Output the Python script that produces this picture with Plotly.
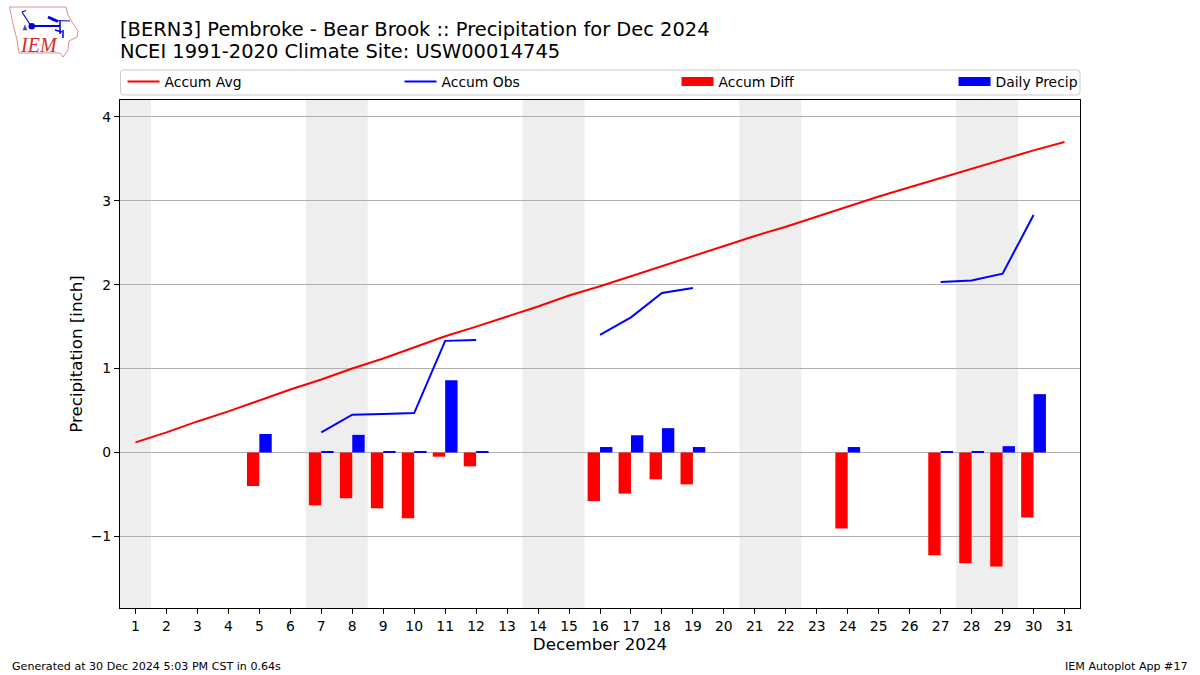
import plotly.graph_objects as go

days = list(range(1, 32))
accum_avg = [0.12, 0.24, 0.37, 0.49, 0.62, 0.75, 0.87, 1.00, 1.12, 1.25, 1.385, 1.50, 1.62, 1.74, 1.87, 1.98,
             2.10, 2.22, 2.34, 2.46, 2.58, 2.69, 2.81, 2.93, 3.05, 3.16, 3.27, 3.38, 3.49, 3.60, 3.70]
accum_obs = [None, None, None, None, None, None, 0.24, 0.45, 0.46, 0.47, 1.33, 1.34, None, None, None, 1.40,
             1.61, 1.90, 1.96, None, None, None, None, None, None, None, 2.03, 2.05, 2.13, 2.83, None]
accum_diff = [None, None, None, None, -0.40, None, -0.63, -0.545, -0.665, -0.785, -0.05, -0.165, None, None, None, -0.58,
              -0.49, -0.32, -0.38, None, None, None, None, -0.905, None, None, -1.225, -1.32, -1.36, -0.775, None]
daily_precip = [None, None, None, None, 0.22, None, 0.01, 0.21, 0.01, 0.01, 0.86, 0.01, None, None, None, 0.065,
                0.205, 0.29, 0.065, None, None, None, None, 0.065, None, None, 0.01, 0.01, 0.075, 0.695, None]
weekend_spans = [(0.5, 1.5), (6.5, 8.5), (13.5, 15.5), (20.5, 22.5), (27.5, 29.5)]
yticks = [-1, 0, 1, 2, 3, 4]

W, H = 1200, 675
L, R, T, B = 120, 1080, 100, 608
FONT = "DejaVu Sans"


def px(x):
    return (x - L) / (R - L)


def py(y):
    return (B - y) / (B - T)


def path(points, close=False):
    s = "M" + " L".join(f"{px(a):.5f},{py(b):.5f}" for a, b in points)
    return s + (" Z" if close else "")


fig = go.Figure()
fig.add_trace(go.Scatter(x=days, y=accum_avg, mode="lines", name="Accum Avg", legendwidth=227,
                         line=dict(color="#ff0000", width=2)))
fig.add_trace(go.Scatter(x=days, y=accum_obs, mode="lines", name="Accum Obs", legendwidth=227,
                         line=dict(color="#0000ff", width=2)))
fig.add_trace(go.Bar(x=days, y=accum_diff, name="Accum Diff", width=0.4, offset=-0.4, showlegend=False,
                     legendgroup="diff", marker=dict(color="#ff0000", line_width=0)))
fig.add_trace(go.Scatter(x=[None], y=[None], mode="lines", name="Accum Diff", legendgroup="diff", legendwidth=227,
                         line=dict(color="#ff0000", width=9)))
fig.add_trace(go.Bar(x=days, y=daily_precip, name="Daily Precip", width=0.4, offset=0, showlegend=False,
                     legendgroup="daily", marker=dict(color="#0000ff", line_width=0)))
fig.add_trace(go.Scatter(x=[None], y=[None], mode="lines", name="Daily Precip", legendgroup="daily", legendwidth=92,
                         line=dict(color="#0000ff", width=9)))

shapes = []
for a, b in weekend_spans:
    shapes.append(dict(type="rect", xref="x", yref="paper", x0=a, x1=b, y0=0, y1=1,
                       fillcolor="#eeeeee", line_width=0, layer="below"))

# legend frame
lx0, lx1, ly0, ly1, r = 120.5, 1080, 70, 95, 3
shapes.append(dict(type="path", xref="paper", yref="paper", layer="below",
                   path=(f"M{px(lx0 + r):.5f},{py(ly0):.5f} L{px(lx1 - r):.5f},{py(ly0):.5f} "
                         f"Q{px(lx1):.5f},{py(ly0):.5f} {px(lx1):.5f},{py(ly0 + r):.5f} "
                         f"L{px(lx1):.5f},{py(ly1 - r):.5f} Q{px(lx1):.5f},{py(ly1):.5f} {px(lx1 - r):.5f},{py(ly1):.5f} "
                         f"L{px(lx0 + r):.5f},{py(ly1):.5f} Q{px(lx0):.5f},{py(ly1):.5f} {px(lx0):.5f},{py(ly1 - r):.5f} "
                         f"L{px(lx0):.5f},{py(ly0 + r):.5f} Q{px(lx0):.5f},{py(ly0):.5f} {px(lx0 + r):.5f},{py(ly0):.5f} Z"),
                   line=dict(color="#cccccc", width=1), fillcolor="rgba(255,255,255,0.8)"))

# IEM logo
outline = [(9.5, 7), (66, 7), (68, 15), (72, 22), (78, 31), (77, 37), (69, 41), (68, 50), (63, 57), (60, 53), (19, 53), (17, 40), (13, 24)]
shapes.append(dict(type="path", xref="paper", yref="paper", path=path(outline, True),
                   line=dict(color="#e28c8c", width=1), fillcolor="rgba(0,0,0,0)"))
for seg, w in (([(31, 26), (60, 26)], 2), ([(31, 26), (22, 12)], 1.2), ([(22, 12), (26, 10.5)], 1.2),
               ([(48, 17), (58, 21.5)], 3), ([(52, 20.5), (70, 21)], 1), ([(60, 21), (60, 34)], 1.5),
               ([(63, 30), (63, 38)], 1.5), ([(55, 30), (62, 32)], 1.5)):
    shapes.append(dict(type="path", xref="paper", yref="paper", path=path(seg),
                       line=dict(color="#0000e0", width=w)))
shapes.append(dict(type="circle", xref="paper", yref="paper", x0=px(28.5), x1=px(35), y0=py(29.5), y1=py(23),
                   fillcolor="#0000e0", line_width=0))
shapes.append(dict(type="path", xref="paper", yref="paper", path=path([(23, 30), (25, 25), (27, 30)], True),
                   line=dict(color="#4040e0", width=0.5), fillcolor="#4040e0"))

annotations = [
    dict(text="NCEI 1991-2020 Climate Site: USW00014745", xref="paper", yref="paper", x=px(118), y=py(51.5),
         xanchor="left", yanchor="middle", showarrow=False, font=dict(family=FONT, size=19.45, color="black")),
    dict(text="Generated at 30 Dec 2024 5:03 PM CST in 0.64s", xref="paper", yref="paper", x=px(10), y=py(666),
         xanchor="left", yanchor="middle", showarrow=False, font=dict(family=FONT, size=11.1, color="black")),
    dict(text="IEM Autoplot App #17", xref="paper", yref="paper", x=px(1190), y=py(666),
         xanchor="right", yanchor="middle", showarrow=False, font=dict(family=FONT, size=11.1, color="black")),
    dict(text="<i>IEM</i>", xref="paper", yref="paper", x=px(38.5), y=py(45), xanchor="center", yanchor="middle",
         showarrow=False, font=dict(family="Liberation Serif", size=20, color="#d62c2c")),
]

fig.update_layout(
    width=W, height=H,
    margin=dict(l=L, r=W - R, t=T, b=H - B, pad=0, autoexpand=False),
    paper_bgcolor="white", plot_bgcolor="white",
    font=dict(family=FONT, size=13.9, color="black"),
    barmode="overlay",
    title=dict(text="[BERN3] Pembroke - Bear Brook :: Precipitation for Dec 2024", xref="container", yref="container",
               x=120 / W, xanchor="left", y=1 - 29 / H, yanchor="middle", font=dict(family=FONT, size=19.45, color="black")),
    xaxis=dict(range=[0.5, 31.5], tickmode="array", tickvals=days, ticktext=[str(d) for d in days],
               showgrid=False, zeroline=False, showline=True, mirror=True, linecolor="black", linewidth=1.1,
               ticks="outside", ticklen=5, tickwidth=1.1, tickcolor="black", tickfont=dict(size=13.9),
               title=dict(text="December 2024", font=dict(size=16.7), standoff=5)),
    yaxis=dict(range=[-1.853, 4.2], tickmode="array", tickvals=yticks, showgrid=True, gridcolor="#b0b0b0", gridwidth=1,
               zeroline=False, showline=True, mirror=True, linecolor="black", linewidth=1.1,
               ticks="outside", ticklen=5, tickwidth=1.1, tickcolor="black", tickfont=dict(size=13.9),
               title=dict(text="Precipitation [inch]", font=dict(size=16.7), standoff=3)),
    legend=dict(orientation="h", x=-0.0005, xanchor="left", y=py(66), yanchor="top", bgcolor="rgba(0,0,0,0)",
                borderwidth=0, itemwidth=32, indentation=3, font=dict(size=13.9),
                traceorder="normal", itemclick=False, itemdoubleclick=False),
    shapes=shapes, annotations=annotations,
)

fig.write_html("out.html", config={"displayModeBar": False}, post_script="document.body.style.margin='0';")
